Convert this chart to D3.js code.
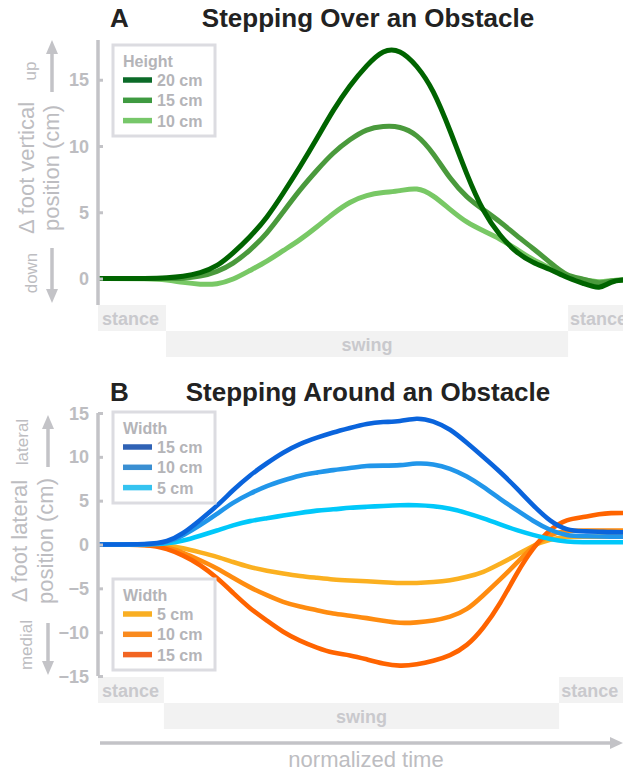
<!DOCTYPE html>
<html>
<head>
<meta charset="utf-8">
<script src="https://cdn.jsdelivr.net/npm/d3@7"></script>
<style>
  body { margin: 0; background: #fff; }
  svg { display: block; }
  text { font-family: "Liberation Sans", Arial, Helvetica, sans-serif; }
</style>
</head>
<body>
<svg id="chart" width="623" height="774"></svg>
<script>
// Normalized time (0 = start of stride, 100 = end of the plotted window)
const time = [0, 9.9, 13.1, 16.1, 19.4, 22.6, 25.6, 28.8, 32.1, 35.1, 38.3, 41.6, 44.6, 47.8,
  51.0, 54.1, 57.3, 60.5, 63.6, 66.8, 70.0, 73.1, 76.3, 79.5, 82.5, 85.8, 89.0, 92.0, 95.3, 97.2, 100];

// Panel A: vertical foot displacement (cm) by obstacle height
const heightLabels = ["20 cm", "15 cm", "10 cm"];
const height20 = [0, 0, 0.05, 0.15, 0.4, 0.9, 1.9, 3.1, 4.6, 6.4, 8.4, 10.6, 12.7, 14.6,
  16.1, 17.3, 17.3, 16.1, 14.3, 11.2, 7.8, 5.0, 3.2, 1.9, 1.2, 0.7, 0.05, -0.35, -0.85, -0.2, -0.1];
const height15 = [0, 0, 0, 0, 0.15, 0.5, 1.1, 2.1, 3.4, 5.0, 6.7, 8.2, 9.5, 10.5,
  11.3, 11.5, 11.5, 10.9, 9.5, 7.5, 6.1, 5.2, 4.3, 3.2, 2.3, 1.2, 0.15, 0.0, -0.45, -0.15, -0.1];
const height10 = [0, 0, -0.1, -0.3, -0.45, -0.45, -0.1, 0.6, 1.3, 2.1, 2.9, 3.9, 4.9, 5.8,
  6.3, 6.5, 6.6, 6.9, 6.3, 5.2, 4.2, 3.6, 3.0, 2.2, 1.4, 0.8, 0.1, -0.1, -0.3, -0.15, -0.1];

// Panel B: lateral foot displacement (cm) by obstacle width
const widthLabelsLateral = ["15 cm", "10 cm", "5 cm"];
const widthLabelsMedial = ["5 cm", "10 cm", "15 cm"];
const lateral15 = [0, 0, 0.3, 1.2, 2.8, 4.4, 6.2, 7.9, 9.3, 10.5, 11.5, 12.2, 12.8, 13.3,
  13.8, 14.0, 14.0, 14.5, 14.1, 13.2, 11.6, 10.0, 8.3, 6.4, 4.5, 2.6, 1.6, 1.5, 1.45, 1.4, 1.4];
const lateral10 = [0, 0, 0.2, 1.0, 2.2, 3.5, 4.8, 5.8, 6.7, 7.3, 7.9, 8.2, 8.5, 8.7,
  9.0, 9.0, 9.0, 9.3, 9.2, 8.7, 7.8, 6.6, 5.2, 3.9, 2.7, 1.6, 1.0, 0.95, 0.9, 0.9, 0.9];
const lateral5 = [0, 0, 0.1, 0.4, 1.0, 1.6, 2.2, 2.7, 3.0, 3.3, 3.6, 3.9, 4.0, 4.2,
  4.3, 4.4, 4.5, 4.5, 4.4, 4.1, 3.6, 3.0, 2.3, 1.6, 1.1, 0.6, 0.3, 0.25, 0.25, 0.25, 0.25];
const medial5 = [0, 0, -0.1, -0.4, -0.9, -1.4, -2.0, -2.6, -3.0, -3.3, -3.6, -3.8, -4.0, -4.1,
  -4.2, -4.3, -4.4, -4.4, -4.3, -4.1, -3.7, -3.2, -2.2, -1.2, -0.1, 0.6, 0.9, 0.9, 0.9, 0.9, 0.9];
const medial10 = [0, 0, -0.3, -0.9, -1.8, -2.7, -3.8, -4.9, -5.8, -6.6, -7.1, -7.5, -7.9, -8.1,
  -8.4, -8.7, -9.0, -8.9, -8.7, -8.3, -7.5, -5.8, -4.0, -2.1, -0.2, 1.2, 1.6, 1.6, 1.6, 1.6, 1.6];
const medial15 = [0, 0, -0.5, -1.2, -2.3, -3.8, -5.5, -7.3, -8.7, -10.0, -11.0, -11.8, -12.4, -12.6,
  -13.1, -13.6, -13.9, -13.7, -13.3, -12.7, -11.6, -9.6, -6.8, -3.2, -0.4, 1.8, 2.9, 3.1, 3.5, 3.6, 3.6];

// Tick values
const ticksA = [0, 5, 10, 15];
const ticksB = [-15, -10, -5, 0, 5, 10, 15];

// Gait phases (in normalized time)
const phasesA = [
  { name: "stance", from: 0, to: 12.9, row: 0 },
  { name: "swing", from: 12.9, to: 89.2, row: 1 },
  { name: "stance", from: 89.2, to: 100, row: 0 }
];
const phasesB = [
  { name: "stance", from: 0, to: 12.5, row: 0 },
  { name: "swing", from: 12.5, to: 87.5, row: 1 },
  { name: "stance", from: 87.5, to: 100, row: 0 }
];

// ---------------------------------------------------------------------------
const svg = d3.select("#chart");
const GREY_AXIS = "#c3c3c7";
const GREY_TEXT = "#bdbdc1";
const GREY_LEG = "#b4b4b8";

const x = d3.scaleLinear().domain([0, 100]).range([98, 625]);

function drawPanel(cfg) {
  const g = svg.append("g");
  const y = d3.scaleLinear().domain(cfg.domain).range(cfg.range);

  // titles
  g.append("text").attr("x", 110).attr("y", cfg.titleY)
    .attr("font-size", 26).attr("font-weight", "bold").attr("fill", "#222")
    .text(cfg.letter);
  g.append("text").attr("x", 368).attr("y", cfg.titleY).attr("text-anchor", "middle")
    .attr("font-size", 26).attr("font-weight", "bold").attr("fill", "#222")
    .text(cfg.title);

  // gait phase bands
  const band = g.append("g");
  cfg.phases.forEach((p, i) => {
    const top = cfg.bandTop + p.row * 26;
    band.append("rect").attr("x", x(p.from)).attr("y", top)
      .attr("width", x(p.to) - x(p.from)).attr("height", 26).attr("fill", "#f2f2f2");
    const t = band.append("text").attr("y", top + 20)
      .attr("font-size", 18).attr("font-weight", "bold").attr("fill", "#c9c9cd").text(p.name);
    if (p.name === "swing") {
      t.attr("x", (x(p.from) + x(p.to)) / 2).attr("text-anchor", "middle");
    } else {
      t.attr("x", x(p.from) + (i === 0 ? 4 : 2));
    }
  });

  // data lines
  const line = d3.line()
    .x((d, i) => x(time[i]))
    .y(d => y(d))
    .curve(d3.curveBasis);
  cfg.series.forEach(s => {
    g.append("path").datum(s.values)
      .attr("d", line).attr("fill", "none")
      .attr("stroke", s.color).attr("stroke-width", cfg.lineWidth)
      .attr("stroke-linejoin", "round");
  });

  // y axis
  const axis = d3.axisRight(y).tickValues(cfg.ticks).tickSize(5).tickFormat("");
  const ax = g.append("g").attr("transform", "translate(98,0)").call(axis);
  ax.select(".domain").remove();
  ax.selectAll(".tick line").attr("stroke", GREY_AXIS).attr("stroke-width", 3);
  g.append("line").attr("x1", 98).attr("x2", 98)
    .attr("y1", cfg.range[1]).attr("y2", cfg.range[0])
    .attr("stroke", GREY_AXIS).attr("stroke-width", 3.5);
  cfg.ticks.forEach(v => {
    g.append("text").attr("x", 89).attr("y", y(v) + 6.5).attr("text-anchor", "end")
      .attr("font-size", 18).attr("font-weight", "bold").attr("fill", GREY_TEXT)
      .text(d3.format("")(v));
  });

  // y axis titles
  const rot = (tx, ty, txt, size) => g.append("text")
    .attr("transform", `translate(${tx},${ty}) rotate(-90)`)
    .attr("text-anchor", "middle").attr("font-size", size).attr("fill", GREY_TEXT).text(txt);
  rot(cfg.label1X, cfg.labelY, cfg.label1, 22);
  rot(cfg.label2X, cfg.labelY, "position (cm)", 22);
  rot(cfg.upX, cfg.upY, cfg.upText, 17);
  rot(cfg.downX, cfg.downY, cfg.downText, 17);

  // direction arrows
  const arrow = (ax0, yTail, yTip) => {
    const dir = yTip < yTail ? -1 : 1;
    const base = yTip - dir * 14;
    g.append("line").attr("x1", ax0).attr("x2", ax0).attr("y1", yTail).attr("y2", base)
      .attr("stroke", GREY_AXIS).attr("stroke-width", 3.5);
    g.append("path").attr("d", `M${ax0},${yTip} L${ax0 - 6},${base} L${ax0 + 6},${base} Z`)
      .attr("fill", GREY_AXIS);
  };
  arrow(cfg.arrowX, cfg.upArrow[0], cfg.upArrow[1]);
  arrow(cfg.arrowX, cfg.downArrow[0], cfg.downArrow[1]);

  // legends
  cfg.legends.forEach(L => {
    const lg = g.append("g");
    lg.append("rect").attr("x", 113).attr("y", L.top).attr("width", 102).attr("height", 91)
      .attr("fill", "#fff").attr("stroke", "#dcdce1").attr("stroke-width", 3);
    lg.append("text").attr("x", 123).attr("y", L.top + 22)
      .attr("font-size", 16).attr("font-weight", "bold").attr("fill", GREY_LEG).text(L.title);
    L.items.forEach((it, i) => {
      const cy = L.top + 35 + i * 20.3;
      lg.append("line").attr("x1", 123).attr("x2", 152).attr("y1", cy).attr("y2", cy)
        .attr("stroke", it.color).attr("stroke-width", 5.5);
      lg.append("text").attr("x", 157).attr("y", cy + 6)
        .attr("font-size", 16).attr("font-weight", "bold").attr("fill", GREY_LEG).text(it.label);
    });
  });
}

// Panel A
drawPanel({
  letter: "A", title: "Stepping Over an Obstacle", titleY: 27,
  domain: [-2, 18], range: [305, 40], ticks: ticksA, lineWidth: 5,
  bandTop: 305, phases: phasesA,
  series: [
    { values: height10, color: "#78c865" },
    { values: height15, color: "#4a9a3c" },
    { values: height20, color: "#006400" }
  ],
  label1: "\u0394 foot vertical", label1X: 34, label2X: 59, labelY: 168,
  upText: "up", upX: 36, upY: 71, downText: "down", downX: 37, downY: 273,
  arrowX: 52, upArrow: [92, 40], downArrow: [248, 303],
  legends: [{
    top: 45, title: "Height",
    items: [
      { label: heightLabels[0], color: "#0b6a28" },
      { label: heightLabels[1], color: "#3f9a41" },
      { label: heightLabels[2], color: "#77c76a" }
    ]
  }]
});

// Panel B
drawPanel({
  letter: "B", title: "Stepping Around an Obstacle", titleY: 401,
  domain: [-15, 15], range: [676, 413], ticks: ticksB, lineWidth: 4.6,
  bandTop: 677, phases: phasesB,
  series: [
    { values: medial5, color: "#fbb020" },
    { values: medial10, color: "#ff8c10" },
    { values: medial15, color: "#ff6400" },
    { values: lateral5, color: "#00c8fa" },
    { values: lateral10, color: "#2196ea" },
    { values: lateral15, color: "#0a64dc" }
  ],
  label1: "\u0394 foot lateral", label1X: 27, label2X: 53, labelY: 541,
  upText: "lateral", upX: 28, upY: 442, downText: "medial", downX: 32, downY: 645,
  arrowX: 48, upArrow: [467, 415], downArrow: [623, 675],
  legends: [
    {
      top: 412, title: "Width",
      items: [
        { label: widthLabelsLateral[0], color: "#2f62b5" },
        { label: widthLabelsLateral[1], color: "#3a8fd2" },
        { label: widthLabelsLateral[2], color: "#35c3f0" }
      ]
    },
    {
      top: 579, title: "Width",
      items: [
        { label: widthLabelsMedial[0], color: "#f9ae22" },
        { label: widthLabelsMedial[1], color: "#f98a1e" },
        { label: widthLabelsMedial[2], color: "#f26522" }
      ]
    }
  ]
});

// normalized time arrow
svg.append("line").attr("x1", 100).attr("x2", 612).attr("y1", 743).attr("y2", 743)
  .attr("stroke", GREY_AXIS).attr("stroke-width", 3.5);
svg.append("path").attr("d", "M623,743 L610,737 L610,749 Z").attr("fill", GREY_AXIS);
svg.append("text").attr("x", 366).attr("y", 767).attr("text-anchor", "middle")
  .attr("font-size", 22).attr("fill", GREY_TEXT).text("normalized time");
</script>
</body>
</html>
